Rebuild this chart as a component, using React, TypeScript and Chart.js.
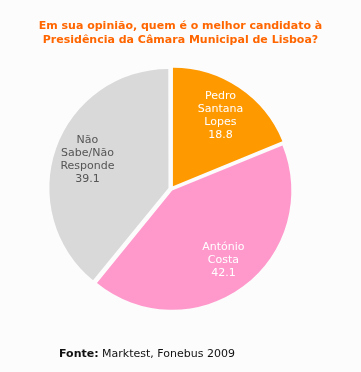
import React, { useEffect, useRef } from "react";
import { Chart, registerables } from "chart.js";

Chart.register(...registerables);

const titleLines = [
  "Em sua opinião, quem é o melhor candidato à",
  "Presidência da Câmara Municipal de Lisboa?",
];
const categories = [
  ["Pedro", "Santana", "Lopes"],
  ["António", "Costa"],
  ["Não", "Sabe/Não", "Responde"],
];
const values = [18.8, 42.1, 39.1];
const sliceColors = ["#FF9900", "#FF99CC", "#D9D9D9"];
const labelColors = ["#FFFFFF", "#FFFFFF", "#555555"];
const sourceLabel = "Fonte:";
const sourceText = "Marktest, Fonebus 2009";

const labelPlugin = {
  id: "sliceLabels",
  afterDatasetsDraw(chart: any) {
    const ctx = chart.ctx;
    const meta = chart.getDatasetMeta(0);
    ctx.save();
    ctx.font = "11px 'DejaVu Sans'";
    ctx.textAlign = "center";
    ctx.textBaseline = "middle";
    meta.data.forEach((arc: any, i: number) => {
      const p = arc.getProps(["x", "y", "startAngle", "endAngle", "outerRadius", "circumference"], true);
      const mid = (p.startAngle + p.endAngle) / 2;
      const off = ((arc.options.offset || 0) / 4) * (2 - Math.sin(Math.min(Math.PI, p.circumference)));
      const d = off + p.outerRadius * 0.72;
      const cx = p.x + Math.cos(mid) * d;
      const cy = p.y + Math.sin(mid) * d;
      const lines = [...categories[i], values[i].toFixed(1)];
      const lh = 13;
      ctx.fillStyle = labelColors[i];
      lines.forEach((t, j) => {
        ctx.fillText(t, cx, cy + (j - (lines.length - 1) / 2) * lh);
      });
    });
    ctx.restore();
  },
};

export default function App() {
  const ref = useRef<HTMLCanvasElement | null>(null);

  useEffect(() => {
    if (!ref.current) return;
    const chart = new Chart(ref.current, {
      type: "pie",
      data: {
        labels: categories.map((c) => c.join(" ")),
        datasets: [
          {
            data: values,
            backgroundColor: sliceColors,
            borderWidth: 0,
            offset: [13.8, 8, 10.8],
            hoverOffset: 0,
          },
        ],
      },
      options: {
        responsive: false,
        maintainAspectRatio: false,
        animation: false,
        layout: { padding: { top: 64, bottom: 58, left: 30, right: 49 } },
        plugins: {
          legend: { display: false },
          tooltip: { enabled: false },
          title: { display: false },
        },
        events: [],
      },
      plugins: [labelPlugin],
    });
    return () => chart.destroy();
  }, []);

  return (
    <div
      style={{
        position: "fixed",
        left: 0,
        top: 0,
        width: 361,
        height: 372,
        background: "#FCFCFC",
        overflow: "hidden",
      }}
    >
      <canvas ref={ref} width={361} height={372} style={{ position: "absolute", left: 0, top: 0 }} />
      <div
        style={{
          position: "absolute",
          left: 0,
          top: 19,
          width: 361,
          textAlign: "center",
          font: "bold 11px 'DejaVu Sans'",
          lineHeight: "14px",
          color: "#FF6600",
          whiteSpace: "nowrap",
        }}
      >
        {titleLines[0]}
        <br />
        {titleLines[1]}
      </div>
      <div
        style={{
          position: "absolute",
          left: 59,
          top: 347,
          font: "11px 'DejaVu Sans'",
          lineHeight: "14px",
          color: "#111111",
          whiteSpace: "nowrap",
        }}
      >
        <b>{sourceLabel}</b> {sourceText}
      </div>
    </div>
  );
}
